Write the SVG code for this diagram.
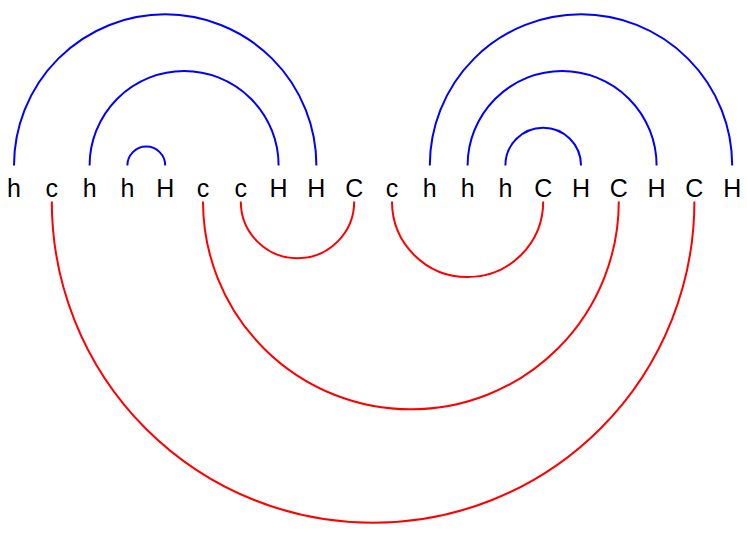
<svg xmlns="http://www.w3.org/2000/svg" width="747" height="538" viewBox="0 0 747 538">
<style>
text{font-family:"Liberation Sans",Arial,sans-serif;font-size:25px;text-anchor:middle;fill:#000}
.b{fill:none;stroke:#0000ff;stroke-width:2}
.r{fill:none;stroke:#ff0000;stroke-width:2}
</style>
<rect width="747" height="538" fill="#fff"/>
<g id="connectors">
<path class="b" d="M14 165.5 A151.2 151.2 0 0 1 316.4 165.5"/>
<path class="b" d="M89.6 165.5 A94.5 94.5 0 0 1 278.6 165.5"/>
<path class="b" d="M127.4 165.5 A18.9 18.9 0 0 1 165.2 165.5"/>
<path class="b" d="M429.8 165.5 A151.2 151.2 0 0 1 732.2 165.5"/>
<path class="b" d="M467.6 165.5 A94.5 94.5 0 0 1 656.6 165.5"/>
<path class="b" d="M505.4 165.5 A37.8 37.8 0 0 1 581 165.5"/>
<path class="r" d="M51.8 201.5 A321.3 321.3 0 0 0 694.4 201.5"/>
<path class="r" d="M203 201.5 A207.9 207.9 0 0 0 618.8 201.5"/>
<path class="r" d="M240.8 201.5 A56.7 56.7 0 0 0 354.2 201.5"/>
<path class="r" d="M392 201.5 A75.6 75.6 0 0 0 543.2 201.5"/>
</g>
<g id="n0"><text x="14" y="196.5">h</text></g>
<g id="n1"><text x="51.8" y="196.5">c</text></g>
<g id="n2"><text x="89.6" y="196.5">h</text></g>
<g id="n3"><text x="127.4" y="196.5">h</text></g>
<g id="n4"><text x="165.2" y="196.5">H</text></g>
<g id="n5"><text x="203" y="196.5">c</text></g>
<g id="n6"><text x="240.8" y="196.5">c</text></g>
<g id="n7"><text x="278.6" y="196.5">H</text></g>
<g id="n8"><text x="316.4" y="196.5">H</text></g>
<g id="n9"><text x="354.2" y="196.5">C</text></g>
<g id="n10"><text x="392" y="196.5">c</text></g>
<g id="n11"><text x="429.8" y="196.5">h</text></g>
<g id="n12"><text x="467.6" y="196.5">h</text></g>
<g id="n13"><text x="505.4" y="196.5">h</text></g>
<g id="n14"><text x="543.2" y="196.5">C</text></g>
<g id="n15"><text x="581" y="196.5">H</text></g>
<g id="n16"><text x="618.8" y="196.5">C</text></g>
<g id="n17"><text x="656.6" y="196.5">H</text></g>
<g id="n18"><text x="694.4" y="196.5">C</text></g>
<g id="n19"><text x="732.2" y="196.5">H</text></g>
</svg>
